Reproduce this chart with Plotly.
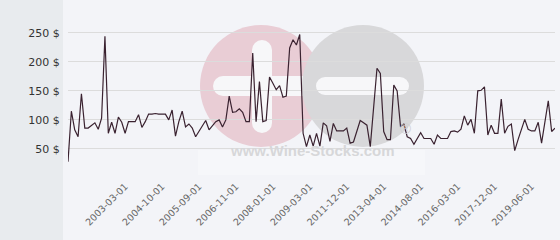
import plotly.graph_objects as go

# ---------------- data ----------------
dates = [
    "2001-10-01", "2001-11-01", "2001-12-01", "2002-01-01", "2002-02-01", "2002-03-01",
    "2002-04-01", "2002-05-01", "2002-06-01", "2002-07-01", "2002-08-01", "2002-09-01",
    "2002-10-01", "2002-11-01", "2002-12-01", "2003-01-01", "2003-02-01",
    "2003-03-01", "2003-05-01", "2003-07-01", "2003-09-01", "2003-10-01", "2003-12-01",
    "2004-01-01", "2004-03-01", "2004-05-01", "2004-06-01", "2004-08-01", "2004-10-01",
    "2004-11-01", "2004-12-01", "2005-01-01", "2005-02-01", "2005-03-01", "2005-04-01",
    "2005-05-01", "2005-06-01", "2005-07-01", "2005-08-01", "2005-09-01",
    "2005-10-01", "2005-12-01", "2006-01-01", "2006-02-01", "2006-03-01", "2006-05-01",
    "2006-06-01", "2006-07-01", "2006-08-01", "2006-10-01", "2006-11-01",
    "2006-12-01", "2007-02-01", "2007-03-01", "2007-04-01", "2007-05-01", "2007-07-01",
    "2007-08-01", "2007-09-01", "2007-10-01", "2007-12-01", "2008-01-01",
    "2008-02-01", "2008-04-01", "2008-05-01", "2008-06-01", "2008-07-01", "2008-09-01",
    "2008-10-01", "2008-11-01", "2008-12-01", "2009-02-01", "2009-03-01",
    "2009-06-01", "2009-09-01", "2009-12-01", "2010-03-01", "2010-06-01", "2010-09-01",
    "2010-12-01", "2011-03-01", "2011-06-01", "2011-09-01", "2011-12-01",
    "2012-01-01", "2012-03-01", "2012-05-01", "2012-06-01", "2012-08-01", "2012-09-01",
    "2012-10-01", "2012-12-01", "2013-01-01", "2013-03-01", "2013-04-01",
    "2013-05-01", "2013-07-01", "2013-08-01", "2013-10-01", "2013-11-01", "2013-12-01",
    "2014-02-01", "2014-03-01", "2014-05-01", "2014-06-01", "2014-08-01",
    "2014-10-01", "2014-12-01", "2015-01-01", "2015-03-01", "2015-05-01", "2015-07-01",
    "2015-08-01", "2015-10-01", "2015-12-01", "2016-01-01", "2016-03-01",
    "2016-05-01", "2016-07-01", "2016-09-01", "2016-11-01", "2017-01-01", "2017-03-01",
    "2017-05-01", "2017-06-01", "2017-08-01", "2017-10-01", "2017-12-01",
    "2018-01-01", "2018-03-01", "2018-05-01", "2018-07-01", "2018-08-01", "2018-10-01",
    "2018-12-01", "2019-01-01", "2019-03-01", "2019-05-01", "2019-06-01",
    "2019-08-01", "2019-10-01", "2019-12-01", "2020-02-01", "2020-04-01", "2020-06-01",
    "2020-08-01",
]

prices = [
    28, 115, 83, 71, 145, 86, 86, 91, 95, 84, 103, 244, 77, 96, 77, 105, 96,
    77, 97, 97, 97, 109, 87, 97, 110, 110, 111, 110, 110,
    110, 100, 117, 72, 97, 115, 88, 93, 86, 71, 81,
    90, 99, 83, 91, 97, 100, 88, 100, 141, 113, 114,
    119, 113, 97, 97, 215, 97, 166, 97, 99, 174, 163,
    152, 159, 139, 141, 224, 238, 229, 247, 77, 54, 74,
    55, 77, 55, 95, 90, 63, 94, 81, 81, 81, 86,
    60, 62, 80, 99, 95, 91, 54, 120, 189, 180, 80,
    66, 66, 160, 150, 89, 93, 71, 68, 58, 68, 78,
    68, 68, 68, 58, 74, 68, 68, 68, 80, 81, 79,
    84, 107, 91, 101, 77, 150, 151, 157, 74, 91, 77,
    77, 136, 77, 89, 93, 47, 66, 84, 101, 84, 81,
    81, 96, 60, 97, 133, 80, 86,
]

tick_dates = [
    "2003-03-01", "2004-10-01", "2005-09-01", "2006-11-01", "2008-01-01", "2009-03-01",
    "2011-12-01", "2013-04-01", "2014-08-01", "2016-03-01", "2017-12-01", "2019-06-01",
]

y_ticks = [0, 50, 100, 150, 200, 250]
y_tick_text = ["", "50 $", "100 $", "150 $", "200 $", "250 $"]

# ---------------- layout geometry ----------------
W, H = 560, 240
L, R, T, B = 68, 5, 27, 62
PW = W - L - R
PH = H - T - B


def px(x):
    return (x - L) / PW


def py(y):
    return (H - B - y) / PH


def rect(x0, y0, x1, y1, color):
    return dict(type="rect", xref="paper", yref="paper",
                x0=px(x0), x1=px(x1), y0=py(y1), y1=py(y0),
                fillcolor=color, line=dict(width=0), layer="below")


def circ(cx, cy, r, color):
    return dict(type="circle", xref="paper", yref="paper",
                x0=px(cx - r), x1=px(cx + r), y0=py(cy + r), y1=py(cy - r),
                fillcolor=color, line=dict(width=0), layer="below")


PINK = "#e9cdd5"
GREY = "#d8d8da"
CUT = "#f7f7f9"

shapes = [
    rect(0, 0, 63, 240, "#e8ebee"),
    # pink circle with "+"
    circ(261, 86, 61, PINK),
    rect(252, 50, 272, 123, CUT),
    circ(262, 50, 10, CUT),
    circ(262, 123, 10, CUT),
    rect(223, 76, 306, 96, CUT),
    circ(223, 86, 10, CUT),
    # grey circle with "-"
    circ(363, 86, 61, GREY),
    rect(325, 77, 400, 95, CUT),
    circ(325, 86, 9, CUT),
    circ(400, 86, 9, CUT),
    # faint box behind watermark text
    rect(198, 150, 425, 175, "rgba(255,255,255,0.25)"),
]

annotations = [
    dict(text="<b>www.Wine-Stocks.com</b>", xref="paper", yref="paper",
         x=px(312), y=py(161), showarrow=False,
         font=dict(family="Liberation Sans", size=15, color="#d7d7d9")),
    dict(text="®", xref="paper", yref="paper", x=px(413), y=py(139), showarrow=False,
         font=dict(family="Liberation Sans", size=15, color="#cfcfd1")),
]

fig = go.Figure()
fig.add_trace(go.Scatter(
    x=dates, y=prices, mode="lines",
    line=dict(color="#3a2230", width=1.2),
    hoverinfo="skip", showlegend=False,
))

fig.update_layout(
    width=W, height=H,
    margin=dict(l=L, r=R, t=T, b=B, pad=0),
    paper_bgcolor="#f3f4f8",
    plot_bgcolor="rgba(0,0,0,0)",
    font=dict(family="DejaVu Sans", size=11, color="#333333"),
    shapes=shapes,
    annotations=annotations,
    xaxis=dict(
        type="category", range=[0, len(dates) - 1],
        tickmode="array", tickvals=tick_dates, ticktext=tick_dates,
        tickangle=-45, tickfont=dict(size=9.5, color="#666666"),
        showgrid=False, zeroline=False, showline=False, ticks="",
        fixedrange=True,
    ),
    yaxis=dict(
        range=[0, 260], tickmode="array", tickvals=y_ticks, ticktext=y_tick_text,
        gridcolor="#dcdcdc", gridwidth=1, zeroline=False, showline=False,
        ticks="outside", ticklen=5, tickcolor="rgba(0,0,0,0)",
        tickfont=dict(size=11, color="#333333"),
        fixedrange=True,
    ),
)

fig.write_html("out.html")
